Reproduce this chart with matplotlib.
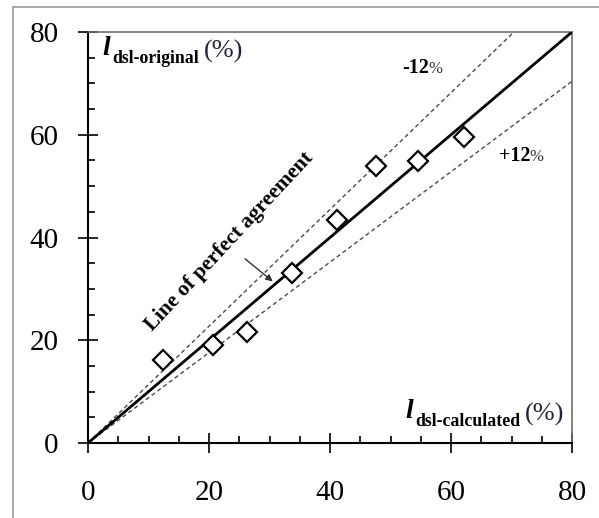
import numpy as np
import matplotlib
matplotlib.use('Agg')
import matplotlib.pyplot as plt
from matplotlib.lines import Line2D

# data
calc = [12.4, 20.6, 26.2, 33.8, 41.1, 47.6, 54.6, 62.2]   # l_dsl-calculated (%)
orig = [16.1, 19.1, 21.7, 33.0, 43.4, 53.9, 54.9, 59.5]   # l_dsl-original (%)
ticks = [0, 20, 40, 60, 80]
upper_slope = 1 / 0.88   # -12% line
lower_slope = 0.88       # +12% line

plt.rcParams['font.family'] = ['Liberation Serif', 'DejaVu Serif']

W, H = 599, 518
fig = plt.figure(figsize=(W / 100, H / 100), dpi=100)

def fx(px):
    return px / W

def fy(py):
    return 1 - py / H

ax = fig.add_axes([fx(88), fy(443), fx(572) - fx(88), fy(32) - fy(443)])

# outer frame (only left and top edges are visible)
fig.add_artist(Line2D([fx(13), fx(13)], [0, fy(7)], color='#9a9a9a', lw=1.2))
fig.add_artist(Line2D([fx(13), 1], [fy(7), fy(7)], color='#9a9a9a', lw=1.2))

xs = np.array([0, 80])
ax.plot(xs, xs, color='black', lw=2, zorder=3)
ax.plot(xs, upper_slope * xs, color='#4a4a4a', lw=1, dashes=(3, 2.2), zorder=2)
ax.plot(xs, lower_slope * xs, color='#4a4a4a', lw=1, dashes=(3, 2.2), zorder=2)
ax.plot(calc, orig, linestyle='none', marker='D', markersize=10,
        markerfacecolor='white', markeredgecolor='black', markeredgewidth=1.6, zorder=4)

ax.set_xlim(0, 80)
ax.set_ylim(0, 80)
ax.set_xticks(ticks)
ax.set_yticks(ticks)
ax.set_xticks(np.arange(0, 81, 5), minor=True)
ax.set_yticks(np.arange(0, 81, 5), minor=True)
ax.tick_params(which='major', direction='inout', length=14, width=1.2,
               labelsize=21, colors='black')
ax.tick_params(which='minor', direction='in', length=5, width=1.2)
ax.tick_params(axis='x', which='major', pad=20)
ax.tick_params(axis='y', which='major', pad=14)

for s in ['left', 'bottom']:
    ax.spines[s].set_linewidth(1.5)
    ax.spines[s].set_color('black')
for s in ['top', 'right']:
    ax.spines[s].set_linewidth(1.2)
    ax.spines[s].set_color('#6e6e6e')

# axis titles inside the plot
fig.text(fx(102), fy(55), 'l', fontsize=20, fontweight='bold', fontstyle='italic', va='baseline')
fig.text(fx(112), fy(63), 'dsl-original', fontsize=12.8, fontweight='bold', va='baseline')
fig.text(fx(204), fy(58), '(%)', fontsize=19, va='baseline', color='#2a2040')

fig.text(fx(405), fy(418), 'l', fontsize=20, fontweight='bold', fontstyle='italic', va='baseline')
fig.text(fx(415), fy(426), 'dsl-calculated', fontsize=12.8, fontweight='bold', va='baseline')
fig.text(fx(525), fy(421), '(%)', fontsize=19, va='baseline', color='#2a2040')

fig.text(fx(402), fy(73), '-12', fontsize=14.5, fontweight='bold', va='baseline')
fig.text(fx(428), fy(73), '%', fontsize=12, va='baseline', color='#333333')
fig.text(fx(499), fy(161), '+12', fontsize=14.5, fontweight='bold', va='baseline')
fig.text(fx(529), fy(161), '%', fontsize=12, va='baseline', color='#333333')

ax.text(23.4, 39.2, 'Line of perfect agreement', fontsize=15.5, fontweight='bold',
        rotation=47, ha='center', va='center', rotation_mode='anchor')
ax.annotate('', xy=(30.9, 31.1), xytext=(25.6, 36.2),
            arrowprops=dict(arrowstyle='-|>', color='#333333', lw=1, mutation_scale=10))

fig.savefig('out.png', dpi=100)
